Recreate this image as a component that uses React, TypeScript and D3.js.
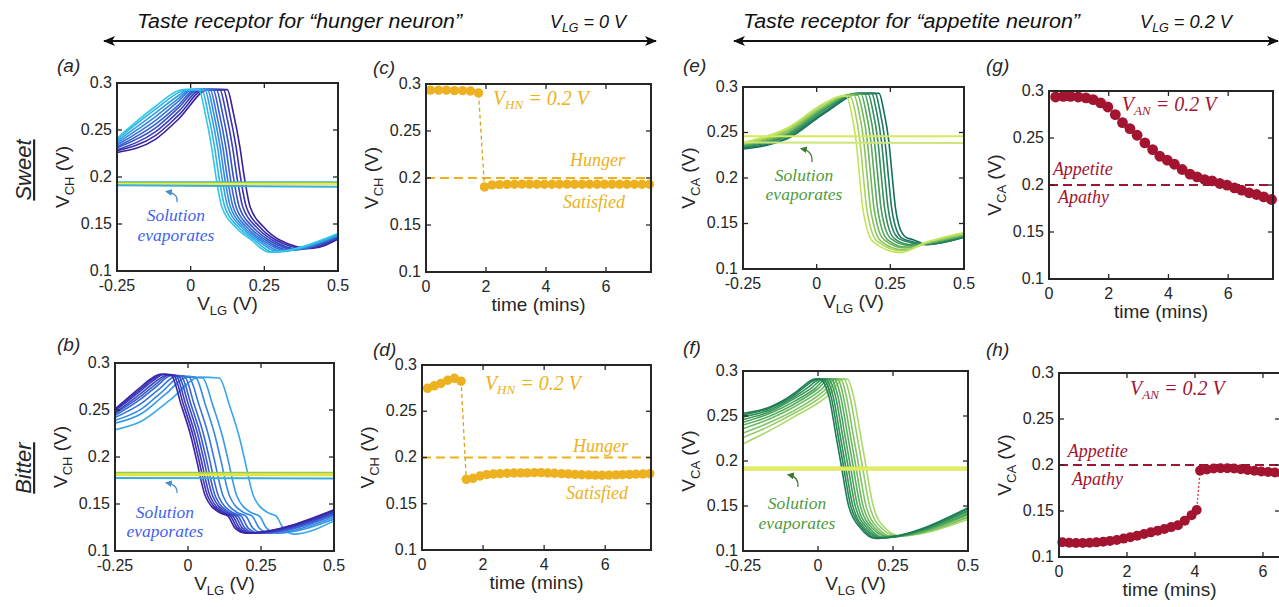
import React from 'react'
import * as d3 from 'd3'

// ---------- values ----------
const vlgTicks = [-0.25, 0, 0.25, 0.5]
const vTicks = [0.1, 0.15, 0.2, 0.25, 0.3]
const timeTicks = [0, 2, 4, 6]

// (a) sweet, hunger receptor: V_CH vs V_LG sweeps (first = earliest, dark)
const sweetHungerSweeps = [
  [[-0.25, .226], [-0.12, .240], [-0.04, .262], [.060, .293], [.124, .293], [.145, .268], [.167, .232], [.182, .2], [.202, .168], [.247, .147], [.302, .133], [.41, .124], [.5, .134]],
  [[-0.25, .228], [-0.12, .244], [-0.04, .266], [.048, .293], [.111, .293], [.132, .268], [.154, .232], [.169, .2], [.189, .168], [.234, .147], [.289, .133], [.39, .124], [.5, .135]],
  [[-0.25, .229], [-0.12, .248], [-0.04, .270], [.036, .293], [.099, .293], [.120, .268], [.142, .232], [.157, .2], [.177, .168], [.222, .147], [.277, .133], [.37, .123], [.5, .135]],
  [[-0.25, .231], [-0.12, .252], [-0.04, .274], [.025, .293], [.087, .293], [.108, .268], [.130, .232], [.145, .2], [.165, .168], [.210, .147], [.265, .133], [.35, .123], [.5, .136]],
  [[-0.25, .232], [-0.12, .256], [-0.04, .277], [.015, .293], [.076, .293], [.097, .268], [.119, .232], [.134, .2], [.154, .168], [.199, .147], [.254, .133], [.335, .122], [.5, .137]],
  [[-0.25, .234], [-0.12, .260], [-0.04, .281], [.006, .293], [.066, .293], [.087, .268], [.109, .232], [.124, .2], [.144, .168], [.189, .147], [.244, .133], [.32, .122], [.5, .137]],
  [[-0.25, .236], [-0.12, .264], [-0.04, .284], [-.003, .293], [.057, .293], [.078, .268], [.100, .232], [.115, .2], [.135, .168], [.180, .147], [.235, .133], [.305, .121], [.5, .138]],
  [[-0.25, .238], [-0.12, .268], [-0.04, .287], [-.010, .293], [.048, .293], [.069, .268], [.091, .232], [.106, .2], [.126, .168], [.171, .147], [.226, .133], [.29, .121], [.5, .139]],
  [[-0.25, .240], [-0.12, .272], [-0.04, .290], [-.018, .293], [.038, .293], [.059, .268], [.081, .232], [.096, .2], [.116, .168], [.161, .147], [.216, .133], [.278, .120], [.5, .139]],
  [[-0.25, .241], [-0.12, .275], [-0.04, .292], [-.025, .293], [.028, .293], [.049, .268], [.071, .232], [.086, .2], [.106, .168], [.151, .147], [.206, .133], [.266, .120], [.5, .140]],
]
const sweetHungerDry = [[0.1945, 0.1945], [0.1935, 0.1935], [0.1925, 0.1925], [0.1912, 0.1895]]

// (b) bitter, hunger receptor
const bitterHungerSweeps = [
  [[-0.25, .251], [-0.16, .275], [-0.128, .283], [-0.095, .288], [-0.058, .287], [-0.023, .255], [0.010, .222], [0.027, .2], [0.060, .158], [0.107, .141], [0.137, .137], [0.162, .124], [0.197, .119], [0.5, .144]],
  [[-0.25, .250], [-0.16, .273], [-0.124, .282], [-0.088, .288], [-0.050, .287], [-0.015, .255], [0.018, .222], [0.035, .2], [0.068, .158], [0.115, .141], [0.145, .137], [0.170, .124], [0.205, .119], [0.5, .143]],
  [[-0.25, .249], [-0.16, .271], [-0.120, .281], [-0.080, .288], [-0.042, .287], [-0.007, .255], [0.026, .222], [0.043, .2], [0.076, .158], [0.123, .141], [0.153, .137], [0.178, .124], [0.213, .119], [0.5, .142]],
  [[-0.25, .247], [-0.16, .268], [-0.116, .279], [-0.072, .287], [-0.033, .286], [0.002, .255], [0.035, .222], [0.052, .2], [0.085, .158], [0.132, .141], [0.162, .137], [0.187, .124], [0.222, .119], [0.5, .141]],
  [[-0.25, .246], [-0.16, .265], [-0.112, .277], [-0.064, .287], [-0.024, .286], [0.011, .255], [0.044, .222], [0.061, .2], [0.094, .158], [0.141, .141], [0.171, .137], [0.196, .124], [0.231, .119], [0.5, .140]],
  [[-0.25, .244], [-0.16, .262], [-0.108, .275], [-0.055, .287], [-0.013, .286], [0.022, .255], [0.055, .222], [0.072, .2], [0.105, .158], [0.152, .141], [0.182, .137], [0.207, .124], [0.242, .119], [0.5, .139]],
  [[-0.25, .242], [-0.16, .257], [-0.100, .272], [-0.040, .286], [0.003, .285], [0.038, .255], [0.071, .222], [0.088, .2], [0.121, .158], [0.168, .141], [0.198, .137], [0.223, .124], [0.258, .119], [0.5, .138]],
  [[-0.25, .239], [-0.16, .251], [-0.090, .269], [-0.020, .286], [0.025, .285], [0.060, .255], [0.093, .222], [0.110, .2], [0.143, .158], [0.190, .141], [0.220, .137], [0.245, .124], [0.280, .119], [0.5, .136]],
  [[-0.25, .236], [-0.16, .246], [-0.080, .266], [0.000, .285], [0.050, .284], [0.085, .255], [0.118, .222], [0.135, .2], [0.168, .158], [0.215, .141], [0.245, .137], [0.270, .124], [0.305, .119], [0.5, .134]],
  [[-0.25, .229], [-0.16, .238], [-0.060, .261], [0.041, .285], [0.107, .284], [0.142, .255], [0.175, .222], [0.192, .2], [0.225, .158], [0.272, .141], [0.302, .137], [0.327, .124], [0.362, .118], [0.5, .132]],
]
const bitterHungerDry = [[0.1832, 0.1832], [0.1815, 0.1815], [0.1806, 0.1806], [0.1776, 0.1772]]

// (e) sweet, appetite receptor
const sweetAppetiteSweeps = [
  [[-0.25, .232], [-0.1, .243], [0.03, .272], [0.150, .293], [0.212, .293], [0.227, .275], [0.245, .24], [0.257, .2], [0.267, .168], [0.279, .148], [0.302, .135], [0.330, .132], [0.37, .127], [0.5, .135]],
  [[-0.25, .233], [-0.1, .244], [0.03, .273], [0.142, .293], [0.199, .293], [0.214, .275], [0.232, .24], [0.244, .2], [0.254, .168], [0.266, .148], [0.289, .134], [0.325, .130], [0.37, .127], [0.5, .135]],
  [[-0.25, .234], [-0.1, .246], [0.03, .274], [0.135, .293], [0.187, .293], [0.202, .275], [0.220, .24], [0.232, .2], [0.242, .168], [0.254, .148], [0.277, .134], [0.320, .129], [0.37, .127], [0.5, .136]],
  [[-0.25, .235], [-0.1, .247], [0.03, .276], [0.128, .292], [0.175, .292], [0.190, .275], [0.208, .24], [0.220, .2], [0.230, .168], [0.242, .148], [0.265, .133], [0.315, .127], [0.37, .128], [0.5, .136]],
  [[-0.25, .235], [-0.1, .248], [0.03, .277], [0.121, .292], [0.163, .292], [0.178, .275], [0.196, .24], [0.208, .2], [0.218, .168], [0.230, .148], [0.253, .133], [0.310, .126], [0.37, .128], [0.5, .137]],
  [[-0.25, .236], [-0.1, .249], [0.03, .278], [0.114, .292], [0.151, .292], [0.166, .275], [0.184, .24], [0.196, .2], [0.206, .168], [0.218, .148], [0.241, .132], [0.305, .124], [0.37, .128], [0.5, .137]],
  [[-0.25, .237], [-0.1, .251], [0.03, .279], [0.107, .291], [0.139, .291], [0.154, .275], [0.172, .24], [0.184, .2], [0.194, .168], [0.206, .148], [0.229, .132], [0.300, .123], [0.37, .128], [0.5, .138]],
  [[-0.25, .237], [-0.1, .252], [0.03, .280], [0.100, .291], [0.127, .291], [0.142, .275], [0.160, .24], [0.172, .2], [0.182, .168], [0.194, .148], [0.217, .131], [0.295, .121], [0.37, .128], [0.5, .138]],
  [[-0.25, .238], [-0.1, .253], [0.03, .282], [0.092, .290], [0.114, .290], [0.129, .275], [0.147, .24], [0.159, .2], [0.169, .168], [0.181, .148], [0.204, .131], [0.290, .120], [0.37, .129], [0.5, .139]],
  [[-0.25, .239], [-0.1, .255], [0.03, .283], [0.085, .290], [0.101, .290], [0.116, .275], [0.134, .24], [0.146, .2], [0.156, .168], [0.168, .148], [0.191, .130], [0.283, .118], [0.37, .129], [0.5, .140]],
]
const sweetAppetiteDry = [[0.2458, 0.2458], [0.2392, 0.2385]]

// (f) bitter, appetite receptor
const bitterAppetiteSweeps = [
  [[-0.25, .253], [-0.16, .260], [-0.08, .275], [-0.050, .283], [-0.010, .291], [0.005, .291], [0.037, .271], [0.059, .23], [0.075, .2], [0.103, .149], [0.143, .125], [0.192, .114], [0.5, .148]],
  [[-0.25, .251], [-0.16, .259], [-0.08, .273], [-0.042, .283], [-0.002, .291], [0.014, .291], [0.044, .271], [0.066, .23], [0.082, .2], [0.110, .149], [0.150, .125], [0.199, .114], [0.5, .147]],
  [[-0.25, .249], [-0.16, .257], [-0.08, .271], [-0.032, .282], [0.008, .291], [0.024, .291], [0.051, .271], [0.073, .23], [0.089, .2], [0.117, .149], [0.157, .125], [0.206, .115], [0.5, .145]],
  [[-0.25, .246], [-0.16, .255], [-0.08, .269], [-0.022, .281], [0.018, .291], [0.034, .291], [0.059, .271], [0.081, .23], [0.097, .2], [0.125, .149], [0.165, .125], [0.214, .115], [0.5, .144]],
  [[-0.25, .243], [-0.16, .253], [-0.08, .266], [-0.012, .280], [0.028, .291], [0.044, .291], [0.067, .271], [0.089, .23], [0.105, .2], [0.133, .149], [0.173, .125], [0.222, .115], [0.5, .142]],
  [[-0.25, .240], [-0.16, .250], [-0.08, .263], [-0.001, .280], [0.039, .291], [0.055, .291], [0.076, .271], [0.098, .23], [0.114, .2], [0.142, .149], [0.182, .125], [0.231, .116], [0.5, .141]],
  [[-0.25, .236], [-0.16, .247], [-0.08, .260], [0.010, .279], [0.050, .291], [0.066, .291], [0.085, .271], [0.107, .23], [0.123, .2], [0.151, .149], [0.191, .125], [0.240, .116], [0.5, .140]],
  [[-0.25, .231], [-0.16, .243], [-0.08, .256], [0.020, .278], [0.060, .291], [0.076, .291], [0.095, .271], [0.117, .23], [0.133, .2], [0.161, .149], [0.201, .125], [0.250, .116], [0.5, .138]],
  [[-0.25, .226], [-0.16, .239], [-0.08, .253], [0.032, .277], [0.072, .291], [0.087, .291], [0.107, .271], [0.129, .23], [0.145, .2], [0.173, .149], [0.213, .125], [0.262, .117], [0.5, .137]],
  [[-0.25, .219], [-0.16, .234], [-0.08, .249], [0.044, .276], [0.084, .291], [0.098, .291], [0.119, .271], [0.141, .23], [0.157, .2], [0.185, .149], [0.225, .125], [0.274, .117], [0.5, .135]],
]
const bitterAppetiteDry = [[0.1928, 0.1928], [0.1915, 0.1915], [0.1902, 0.1902]]

// (c) sweet, hunger neuron output vs time
const sweetHungerTime = [0.15, 0.42, 0.68, 0.95, 1.22, 1.48, 1.75, 1.95, 2.2, 2.45, 2.7, 2.95, 3.2, 3.45, 3.7, 3.95, 4.2, 4.45, 4.7, 4.95, 5.2, 5.45, 5.7, 5.95, 6.2, 6.45, 6.7, 6.95, 7.2, 7.45]
const sweetHungerOut = [0.2935, 0.2935, 0.2935, 0.293, 0.293, 0.2925, 0.2905, 0.1905, 0.1925, 0.193, 0.1932, 0.1934, 0.1935, 0.1935, 0.1934, 0.1934, 0.1933, 0.1934, 0.1935, 0.1934, 0.1934, 0.1933, 0.1933, 0.1934, 0.1934, 0.1933, 0.1933, 0.1934, 0.1934, 0.1934]

// (d) bitter, hunger neuron output vs time
const bitterHungerTime = [0.18, 0.4, 0.62, 0.84, 1.06, 1.28, 1.45, 1.67, 1.9, 2.12, 2.34, 2.56, 2.79, 3.01, 3.23, 3.45, 3.68, 3.9, 4.12, 4.34, 4.57, 4.79, 5.01, 5.23, 5.46, 5.68, 5.9, 6.12, 6.35, 6.57, 6.79, 7.01, 7.24, 7.46]
const bitterHungerOut = [0.2748, 0.2775, 0.280, 0.2835, 0.2856, 0.2825, 0.1764, 0.1775, 0.180, 0.1815, 0.1822, 0.1826, 0.183, 0.1832, 0.1834, 0.1834, 0.1836, 0.1836, 0.1832, 0.183, 0.1826, 0.1822, 0.1818, 0.1814, 0.1812, 0.181, 0.1808, 0.181, 0.1812, 0.1815, 0.1817, 0.182, 0.1822, 0.1825]

// (g) sweet, appetite neuron output vs time
const sweetAppetiteTime = [0.22, 0.48, 0.72, 0.98, 1.24, 1.48, 1.73, 1.97, 2.22, 2.46, 2.71, 2.95, 3.21, 3.47, 3.71, 3.96, 4.2, 4.46, 4.72, 4.96, 5.21, 5.46, 5.72, 5.96, 6.21, 6.45, 6.7, 6.95, 7.19, 7.45]
const sweetAppetiteOut = [0.2936, 0.2943, 0.2943, 0.2936, 0.2926, 0.2908, 0.2873, 0.283, 0.2749, 0.2664, 0.26, 0.2529, 0.2448, 0.2377, 0.2306, 0.2264, 0.2221, 0.2165, 0.2115, 0.2087, 0.2058, 0.2044, 0.2016, 0.1998, 0.197, 0.1945, 0.1917, 0.1899, 0.1874, 0.1846]

// (h) bitter, appetite neuron output vs time
const bitterAppetiteTime = [0.1, 0.3, 0.5, 0.7, 0.9, 1.1, 1.3, 1.5, 1.7, 1.9, 2.1, 2.3, 2.5, 2.7, 2.9, 3.1, 3.3, 3.5, 3.7, 3.9, 4.05, 4.15, 4.35, 4.55, 4.75, 4.95, 5.15, 5.35, 5.55, 5.75, 5.95, 6.15, 6.35, 6.55]
const bitterAppetiteOut = [0.116, 0.1155, 0.1152, 0.1152, 0.1155, 0.1159, 0.1165, 0.1175, 0.1185, 0.12, 0.1216, 0.1232, 0.125, 0.1268, 0.1285, 0.1305, 0.1325, 0.1345, 0.1395, 0.1455, 0.151, 0.1939, 0.1952, 0.1962, 0.1965, 0.1965, 0.1962, 0.1955, 0.1946, 0.1938, 0.193, 0.1925, 0.1918, 0.191]

const neuronThreshold = 0.2

// ---------- look ----------
const SANS = "'Liberation Sans', Arial, Helvetica, sans-serif"
const SERIF = "'Liberation Serif', 'Times New Roman', serif"
const INK = '#262626'
const GOLD = '#EDB120'
const CRIMSON = '#A2142F'

const boxes = {
  a: { left: 117, top: 83, right: 338, bottom: 271 },
  b: { left: 115, top: 363, right: 334, bottom: 551 },
  c: { left: 426, top: 84, right: 651, bottom: 272 },
  d: { left: 422, top: 365, right: 651, bottom: 550 },
  e: { left: 743, top: 87, right: 964, bottom: 269 },
  f: { left: 743, top: 371, right: 968, bottom: 551 },
  g: { left: 1049, top: 91, right: 1273, bottom: 279 },
  h: { left: 1059, top: 373, right: 1280, bottom: 557 },
}

const fmt = (v: number) => (v === 0 ? '0' : String(+v.toFixed(2)))

// "V" with a lowered subscript, then " (V)"
function VLabel({ sub }) {
  return (
    <>
      V<tspan fontSize={13} dy={5}>{sub}</tspan>
      <tspan fontSize={19} dy={-5}>{' (V)'}</tspan>
    </>
  )
}

function Frame({ box, xs, ys, xTicks, xLabel, yLabel, letter }) {
  const tl = 5
  const midX = (box.left + box.right) / 2
  const midY = (box.top + box.bottom) / 2
  return (
    <g fontFamily={SANS} fill={INK}>
      {xTicks.map((t) => (
        <g key={'x' + t}>
          <line x1={xs(t)} x2={xs(t)} y1={box.bottom} y2={box.bottom - tl} stroke={INK} strokeWidth={1.3} />
          <line x1={xs(t)} x2={xs(t)} y1={box.top} y2={box.top + tl} stroke={INK} strokeWidth={1.3} />
          <text x={xs(t)} y={box.bottom + 20} textAnchor="middle" fontSize={16}>{fmt(t)}</text>
        </g>
      ))}
      {vTicks.map((t) => (
        <g key={'y' + t}>
          <line x1={box.left} x2={box.left + tl} y1={ys(t)} y2={ys(t)} stroke={INK} strokeWidth={1.3} />
          <line x1={box.right} x2={box.right - tl} y1={ys(t)} y2={ys(t)} stroke={INK} strokeWidth={1.3} />
          <text x={box.left - 5} y={ys(t)} dy="0.3em" textAnchor="end" fontSize={16}>{fmt(t)}</text>
        </g>
      ))}
      <rect x={box.left} y={box.top} width={box.right - box.left} height={box.bottom - box.top} fill="none" stroke={INK} strokeWidth={2} />
      <text x={midX} y={box.bottom + 39} textAnchor="middle" fontSize={19}>{xLabel}</text>
      <text transform={`translate(${box.left - 48},${midY}) rotate(-90)`} textAnchor="middle" fontSize={19}>{yLabel}</text>
      <text x={letter[0]} y={letter[1]} fontSize={19} fontStyle="italic">{letter[2]}</text>
    </g>
  )
}

function SweepPanel({ box, sweeps, dry, stops, dryColors, darkOnTop, yName, note, noteColor, arrowColor, letter, id }) {
  const xs = d3.scaleLinear().domain([-0.25, 0.5]).range([box.left, box.right])
  const ys = d3.scaleLinear().domain([0.1, 0.3]).range([box.bottom, box.top])
  const line = d3.line<number[]>().x((d) => xs(d[0])).y((d) => ys(d[1])).curve(d3.curveMonotoneX)
  const ramp = d3.interpolateRgbBasis(stops)
  const n = sweeps.length
  const order = d3.range(n)
  if (darkOnTop) order.reverse()
  const [sx, sy, ex, ey] = note.arrow
  const tail = [xs(sx), ys(sy)]
  const head = [xs(ex), ys(ey)]
  const ctrl = [tail[0] + 1, head[1] + 2]
  return (
    <g>
      <defs>
        <clipPath id={'clip-' + id}>
          <rect x={box.left} y={box.top} width={box.right - box.left} height={box.bottom - box.top} />
        </clipPath>
        <marker id={'tip-' + id} viewBox="0 0 10 10" refX={7} refY={5} markerWidth={7} markerHeight={7} markerUnits="userSpaceOnUse" orient="auto">
          <path d="M0,0 L10,5 L0,10 z" fill={arrowColor} />
        </marker>
      </defs>
      <g clipPath={`url(#clip-${id})`}>
        {order.map((i) => (
          <path key={i} d={line(sweeps[i]) || ''} fill="none" stroke={ramp(i / (n - 1))} strokeWidth={1.6} />
        ))}
        {dry.map((d, i) => (
          <line key={'d' + i} x1={xs(-0.25)} x2={xs(0.5)} y1={ys(d[0])} y2={ys(d[1])} stroke={dryColors[i]} strokeWidth={2} />
        ))}
      </g>
      <g fontFamily={SERIF} fontStyle="italic" fontSize={17.5} fill={noteColor} textAnchor="middle">
        <text x={xs(note.x)} y={ys(note.y1)}>Solution</text>
        <text x={xs(note.x)} y={ys(note.y2)}>evaporates</text>
      </g>
      <path d={`M${tail[0]},${tail[1]} Q${ctrl[0]},${ctrl[1]} ${head[0]},${head[1]}`} fill="none" stroke={arrowColor} strokeWidth={1.2} markerEnd={`url(#tip-${id})`} />
      <Frame
        box={box}
        xs={xs}
        ys={ys}
        xTicks={vlgTicks}
        letter={letter}
        xLabel={<VLabel sub="LG" />}
        yLabel={<VLabel sub={yName} />}
      />
    </g>
  )
}

function TimePanel({ box, domain, times, outs, color, lineColor, r, labels, neuron, yName, letter, dash }) {
  const xs = d3.scaleLinear().domain(domain).range([box.left, box.right])
  const ys = d3.scaleLinear().domain([0.1, 0.3]).range([box.bottom, box.top])
  const pts = times.map((t, i) => [t, outs[i]])
  const line = d3.line<number[]>().x((d) => xs(d[0])).y((d) => ys(d[1]))
  return (
    <g>
      <line x1={xs(domain[0])} x2={xs(domain[1])} y1={ys(neuronThreshold)} y2={ys(neuronThreshold)} stroke={color} strokeWidth={2} strokeDasharray="9,5" />
      <path d={line(pts) || ''} fill="none" stroke={lineColor} strokeWidth={1.3} strokeDasharray={dash} />
      {pts.map((p, i) => (
        <circle key={i} cx={xs(p[0])} cy={ys(p[1])} r={r} fill={color} />
      ))}
      <g fontFamily={SERIF} fontStyle="italic" fill={color}>
        <text x={xs(labels.eq[0])} y={ys(labels.eq[1])} fontSize={20}>
          V<tspan fontSize={13} dy={4}>{neuron}</tspan><tspan dy={-4}>{' = 0.2 V'}</tspan>
        </text>
        <text x={xs(labels.up[0])} y={ys(labels.up[1])} fontSize={18} textAnchor={labels.anchor}>{labels.up[2]}</text>
        <text x={xs(labels.down[0])} y={ys(labels.down[1])} fontSize={18} textAnchor={labels.anchor}>{labels.down[2]}</text>
      </g>
      <Frame
        box={box}
        xs={xs}
        ys={ys}
        xTicks={timeTicks}
        letter={letter}
        xLabel="time (mins)"
        yLabel={<VLabel sub={yName} />}
      />
    </g>
  )
}

function Header({ x1, x2, y, text, tx, tw, vx, vw, vlg, id }) {
  return (
    <g fontFamily={SANS} fontStyle="italic" fill="#111">
      <defs>
        <marker id={id} viewBox="0 0 12 10" refX={11} refY={5} markerWidth={13} markerHeight={10} markerUnits="userSpaceOnUse" orient="auto-start-reverse">
          <path d="M0,0 L12,5 L0,10 L3,5 z" fill="#111" />
        </marker>
      </defs>
      <line x1={x1} x2={x2} y1={y} y2={y} stroke="#111" strokeWidth={2} markerStart={`url(#${id})`} markerEnd={`url(#${id})`} />
      <text x={tx} y={28} fontSize={20} textLength={tw} lengthAdjust="spacingAndGlyphs">{text}</text>
      <text x={vx} y={28} fontSize={19} textLength={vw} lengthAdjust="spacingAndGlyphs">
        V<tspan fontSize={13} dy={4}>LG</tspan><tspan dy={-4}>{` = ${vlg} V`}</tspan>
      </text>
    </g>
  )
}

export default function App() {
  return (
    <svg width={1279} height={607} style={{ position: 'absolute', left: 0, top: 0, background: '#fff' }}>
      <rect width={1279} height={607} fill="#fff" />
      <Header id="hdrL" x1={104} x2={656} y={41} text="Taste receptor for “hunger neuron”" tx={137} tw={325} vx={550} vw={76} vlg="0" />
      <Header id="hdrR" x1={734} x2={1278} y={41} text="Taste receptor for “appetite neuron”" tx={743} tw={337} vx={1140} vw={92} vlg="0.2" />

      <g fontFamily={SANS} fontStyle="italic" fontSize={22} fill={INK} textAnchor="middle">
        <text transform="translate(31,170) rotate(-90)" textDecoration="underline">Sweet</text>
        <text transform="translate(31,468) rotate(-90)" textDecoration="underline">Bitter</text>
      </g>

      <SweepPanel
        id="a" box={boxes.a} sweeps={sweetHungerSweeps} dry={sweetHungerDry}
        stops={['#3a1f9e', '#3566dd', '#2ec8ea']} dryColors={['#36b6d9', '#8fcf4a', '#f3e84a', '#35aee0']} darkOnTop={false}
        yName="CH" noteColor="#3f5ff0" arrowColor="#4a8ec8"
        note={{ x: -0.05, y1: 0.1532, y2: 0.1319, arrow: [-0.046, 0.1734, -0.08, 0.1845] }}
        letter={[57, 72, '(a)']}
      />
      <SweepPanel
        id="b" box={boxes.b} sweeps={bitterHungerSweeps} dry={bitterHungerDry}
        stops={['#3b22a6', '#3a5fd8', '#36a8ea']} dryColors={['#8fcf4a', '#f3e84a', '#e8e040', '#35aee0']} darkOnTop={true}
        yName="CH" noteColor="#3f5ff0" arrowColor="#4a8ec8"
        note={{ x: -0.079, y1: 0.1351, y2: 0.1149, arrow: [-0.038, 0.1617, -0.072, 0.1725] }}
        letter={[57, 351, '(b)']}
      />
      <SweepPanel
        id="e" box={boxes.e} sweeps={sweetAppetiteSweeps} dry={sweetAppetiteDry}
        stops={['#156f5e', '#3f9f5e', '#c3e35b']} dryColors={['#d6ea5a', '#cfe57a']} darkOnTop={false}
        yName="CA" noteColor="#4f9a3c" arrowColor="#3d7a2e"
        note={{ x: -0.043, y1: 0.1967, y2: 0.1758, arrow: [-0.016, 0.2176, -0.05, 0.232] }}
        letter={[683, 72, '(e)']}
      />
      <SweepPanel
        id="f" box={boxes.f} sweeps={bitterAppetiteSweeps} dry={bitterAppetiteDry}
        stops={['#1d7c55', '#4aa85a', '#a9d96c']} dryColors={['#d0e858', '#eef25c', '#dfe860']} darkOnTop={true}
        yName="CA" noteColor="#4f9a3c" arrowColor="#3d7a2e"
        note={{ x: -0.07, y1: 0.1467, y2: 0.1244, arrow: [-0.067, 0.1711, -0.097, 0.1845] }}
        letter={[683, 354, '(f)']}
      />

      <TimePanel
        box={boxes.c} domain={[0, 7.5]} times={sweetHungerTime} outs={sweetHungerOut}
        color={GOLD} lineColor="#d9a31c" r={4.7} dash="4,3" neuron="HN" yName="CH"
        labels={{ eq: [2.23, 0.2777], up: [6.63, 0.2128, 'Hunger'], down: [6.63, 0.1681, 'Satisfied'], anchor: 'end' }}
        letter={[373, 74, '(c)']}
      />
      <TimePanel
        box={boxes.d} domain={[0, 7.5]} times={bitterHungerTime} outs={bitterHungerOut}
        color={GOLD} lineColor="#d9a31c" r={4.7} dash="4,3" neuron="HN" yName="CH"
        labels={{ eq: [2.06, 0.273], up: [6.75, 0.206, 'Hunger'], down: [6.75, 0.155, 'Satisfied'], anchor: 'end' }}
        letter={[373, 356, '(d)']}
      />
      <TimePanel
        box={boxes.g} domain={[0, 7.5]} times={sweetAppetiteTime} outs={sweetAppetiteOut}
        color={CRIMSON} lineColor="#d0283c" r={5.4} dash="2,2" neuron="AN" yName="CA"
        labels={{ eq: [2.44, 0.2784], up: [0.13, 0.2105, 'Appetite'], down: [0.3, 0.1807, 'Apathy'], anchor: 'start' }}
        letter={[986, 72, '(g)']}
      />
      <TimePanel
        box={boxes.h} domain={[0, 6.5]} times={bitterAppetiteTime} outs={bitterAppetiteOut}
        color={CRIMSON} lineColor="#e0303f" r={5} dash="2,2" neuron="AN" yName="CA"
        labels={{ eq: [2.09, 0.276], up: [0.26, 0.2087, 'Appetite'], down: [0.38, 0.1783, 'Apathy'], anchor: 'start' }}
        letter={[986, 356, '(h)']}
      />
    </svg>
  )
}
